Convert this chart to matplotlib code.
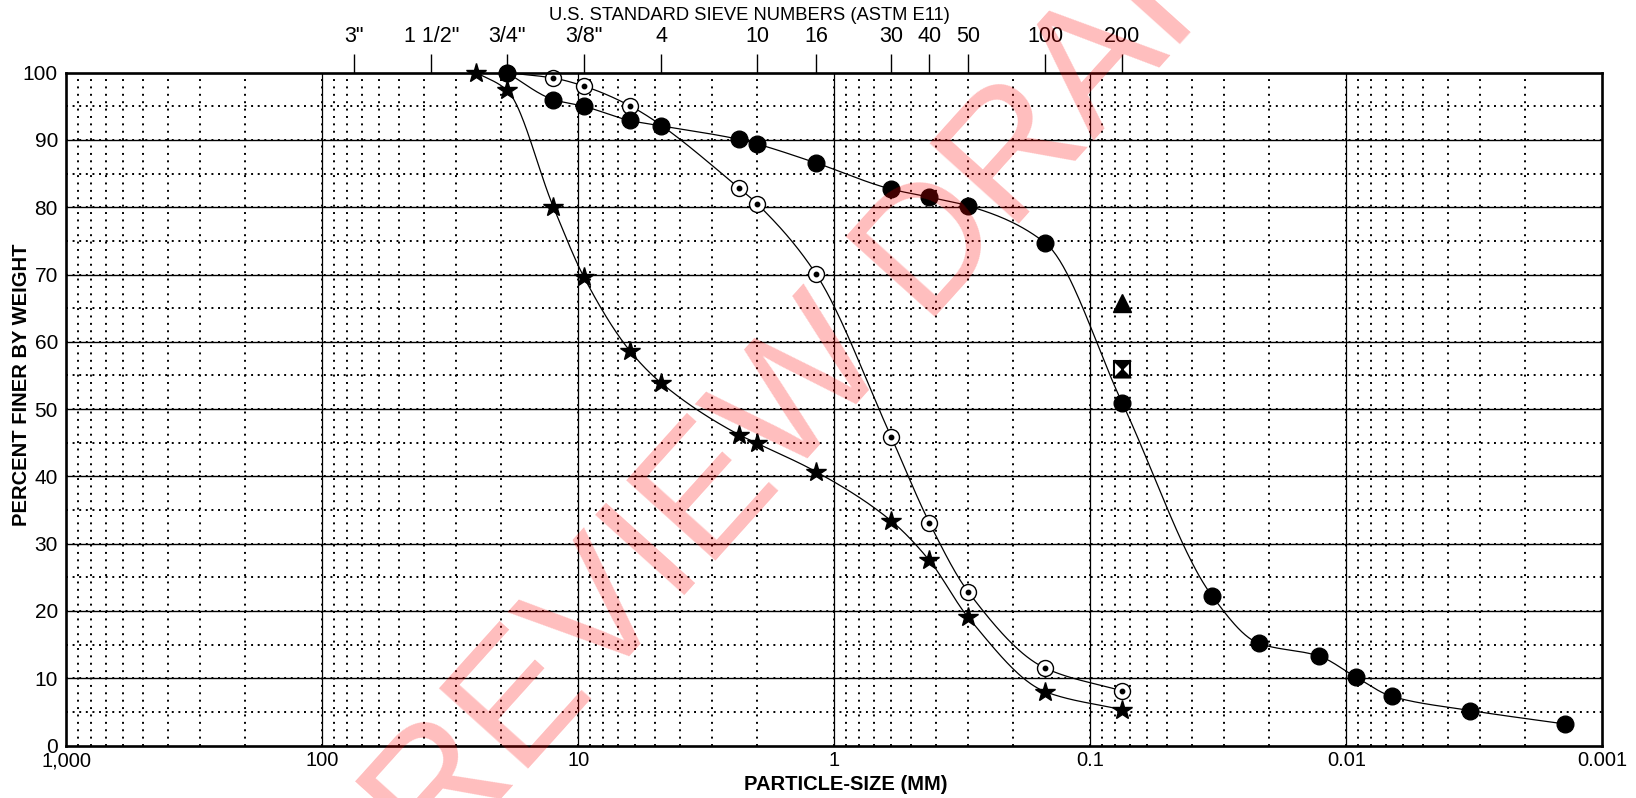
import numpy as np
import matplotlib
matplotlib.use("Agg")
import matplotlib.pyplot as plt
from matplotlib.path import Path
from matplotlib.ticker import NullLocator

plt.rcParams['font.family'] = ['Liberation Sans', 'DejaVu Sans']

# ---------------- data ----------------
filled_size = [19.0, 12.5, 9.5, 6.3, 4.75, 2.36, 2.0, 1.18, 0.6, 0.425, 0.3, 0.15, 0.075,
               0.0334, 0.022, 0.0128, 0.0092, 0.00664, 0.00328, 0.0014]
filled_pct = [100, 96.0, 95.0, 92.9, 92.1, 90.1, 89.4, 86.6, 82.7, 81.5, 80.2, 74.7, 50.9,
              22.2, 15.2, 13.3, 10.2, 7.3, 5.2, 3.2]

open_size = [19.0, 12.5, 9.5, 6.3, 2.36, 2.0, 1.18, 0.6, 0.425, 0.3, 0.15, 0.075]
open_pct = [100, 99.2, 98.0, 95.1, 82.9, 80.5, 70.1, 45.9, 33.1, 22.85, 11.5, 8.1]

star_size = [25.0, 19.0, 12.5, 9.5, 6.3, 4.75, 2.36, 2.0, 1.18, 0.6, 0.425, 0.3, 0.15, 0.075]
star_pct = [100, 97.4, 80.0, 69.6, 58.7, 53.9, 46.2, 44.9, 40.7, 33.4, 27.5, 19.05, 8.0, 5.3]

triangle_size = [0.075]
triangle_pct = [65.8]
hourglass_size = [0.075]
hourglass_pct = [56.0]

sieve_sizes = [75, 37.5, 19.0, 9.5, 4.75, 2.0, 1.18, 0.6, 0.425, 0.3, 0.15, 0.075]
sieve_labels = ['3"', '1 1/2"', '3/4"', '3/8"', '4', '10', '16', '30', '40', '50', '100', '200']

x_ticks = [1000, 100, 10, 1, 0.1, 0.01, 0.001]
x_ticklabels = ['1,000', '100', '10', '1', '0.1', '0.01', '0.001']
y_ticks = list(range(0, 101, 10))


def pchip(x, y, xn):
    x = np.asarray(x, float)
    y = np.asarray(y, float)
    h = np.diff(x)
    d = np.diff(y) / h
    n = len(x)
    m = np.zeros(n)
    for k in range(1, n - 1):
        if d[k - 1] * d[k] > 0:
            w1 = 2 * h[k] + h[k - 1]
            w2 = h[k] + 2 * h[k - 1]
            m[k] = (w1 + w2) / (w1 / d[k - 1] + w2 / d[k])
        else:
            m[k] = 0.0
    m[0] = d[0]
    m[-1] = d[-1]
    idx = np.clip(np.searchsorted(x, xn) - 1, 0, n - 2)
    t = (xn - x[idx]) / h[idx]
    h00 = 2 * t**3 - 3 * t**2 + 1
    h10 = t**3 - 2 * t**2 + t
    h01 = -2 * t**3 + 3 * t**2
    h11 = t**3 - t**2
    return h00 * y[idx] + h10 * h[idx] * m[idx] + h01 * y[idx + 1] + h11 * h[idx] * m[idx + 1]


def smooth(sizes, pcts):
    t = -np.log10(np.asarray(sizes, float))
    tn = np.linspace(t[0], t[-1], 600)
    return 10 ** (-tn), pchip(t, pcts, tn)


W, H = 1636, 798
fig = plt.figure(figsize=(W / 100, H / 100), dpi=100)
left, right, top, bottom = 66.3, 1602.3, 72.7, 745.5
ax = fig.add_axes([left / W, 1 - bottom / H, (right - left) / W, (bottom - top) / H])
ax.set_xscale('log')
ax.set_xlim(1000, 0.001)
ax.set_ylim(0, 100)

# ---------------- grid ----------------
for k in range(-3, 3):
    for mlt in range(2, 10):
        xv = mlt * 10.0**k
        ax.axvline(xv, color='black', lw=1.4, ls=(0, (1, 2.8)), zorder=1)
for xv in [100, 10, 1, 0.1, 0.01]:
    ax.axvline(xv, color='black', lw=0.9, zorder=1)
    ax.axvline(xv, color='black', lw=1.4, ls=(0, (1, 2.8)), zorder=1)
for yv in range(5, 100, 10):
    ax.axhline(yv, color='black', lw=1.4, ls=(0, (1, 2.4)), zorder=1)
for yv in range(10, 100, 10):
    ax.axhline(yv, color='black', lw=1.0, zorder=1)
    ax.axhline(yv, color='black', lw=1.4, ls=(0, (1, 2.4)), zorder=1)

# ---------------- curves ----------------
for s, p in [(filled_size, filled_pct), (open_size, open_pct), (star_size, star_pct)]:
    xs, ys = smooth(s, p)
    ax.plot(xs, ys, color='black', lw=0.9, zorder=3, clip_on=False)

ax.plot(open_size, open_pct, ls='none', marker='o', ms=11.5, mfc='white', mec='black',
        mew=1.0, zorder=4, clip_on=False)
ax.plot(open_size, open_pct, ls='none', marker='o', ms=3.2, color='black', zorder=4.5,
        clip_on=False)
ax.plot(star_size, star_pct, ls='none', marker='*', ms=14.5, color='black', zorder=5,
        clip_on=False)
ax.plot(filled_size, filled_pct, ls='none', marker='o', ms=12, color='black', zorder=6,
        clip_on=False)
ax.plot(triangle_size, triangle_pct, ls='none', marker='^', ms=12.5, color='black', zorder=6)
ax.plot(hourglass_size, hourglass_pct, ls='none', marker='s', ms=12, mfc='white',
        mec='black', mew=1.5, zorder=6)
bowtie = Path([(-1, 1), (1, 1), (0, 0), (-1, 1), (-1, -1), (1, -1), (0, 0), (-1, -1)],
              [Path.MOVETO, Path.LINETO, Path.LINETO, Path.CLOSEPOLY,
               Path.MOVETO, Path.LINETO, Path.LINETO, Path.CLOSEPOLY])
ax.plot(hourglass_size, hourglass_pct, ls='none', marker=bowtie, ms=12, color='black',
        zorder=6.5)

# ---------------- axes ----------------
ax.set_xticks(x_ticks)
ax.set_xticklabels(x_ticklabels)
ax.xaxis.set_minor_locator(NullLocator())
ax.set_yticks(y_ticks)
ax.tick_params(axis='x', length=0, pad=4, labelsize=14.5)
ax.tick_params(axis='y', length=0, pad=6, labelsize=15)
for sp in ax.spines.values():
    sp.set_linewidth(1.9)
    sp.set_zorder(7)

ax2 = ax.twiny()
ax2.set_xscale('log')
ax2.set_xlim(1000, 0.001)
ax2.set_xticks(sieve_sizes)
ax2.set_xticklabels(sieve_labels)
ax2.xaxis.set_minor_locator(NullLocator())
ax2.tick_params(axis='x', direction='out', length=13.5, width=1.0, pad=5, labelsize=15.5)
for sp in ax2.spines.values():
    sp.set_visible(False)

fig.text(749 / W, 1 - 16 / H, 'U.S. STANDARD SIEVE NUMBERS (ASTM E11)', ha='center',
         va='center', fontsize=13.2)
fig.text(846 / W, 1 - 785 / H, 'PARTICLE-SIZE (MM)', ha='center', va='center',
         fontsize=14.5, fontweight='bold')
fig.text(22 / W, 1 - 385 / H, 'PERCENT FINER BY WEIGHT', ha='center', va='center',
         rotation=90, fontsize=14.5, fontweight='bold')

# watermark
fig.text(802 / W, 1 - 397 / H, 'PREVIEW DRAFT', ha='center', va='center', rotation=48,
         fontsize=125, color='red', alpha=0.26, zorder=20)

fig.savefig('out.png', dpi=100)
